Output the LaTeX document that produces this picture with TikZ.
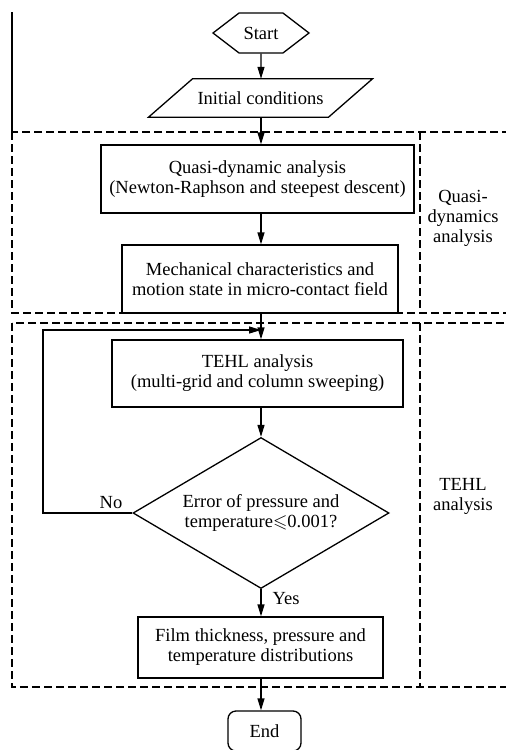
\documentclass[tikz,border=0pt]{standalone}
\usepackage{fontspec}
\setmainfont{Liberation Serif}
\usepackage{amsmath}
\usepackage{amssymb}
\usetikzlibrary{shapes.geometric, shapes.symbols, arrows.meta, positioning, calc}

\begin{document}
\begin{tikzpicture}[
  x=1pt, y=-1pt,
  procbox/.style={rectangle, draw=black, line width=1.3pt, align=center, inner sep=0pt},
  flow/.style={-{Triangle[length=12pt, width=7pt]}, line width=1.3pt},
  zone/.style={draw=black, line width=1.2pt, dash pattern=on 8pt off 4pt},
  font=\fontsize{18.5}{20}\selectfont
]
\useasboundingbox (0,0) rectangle (506,750);

\draw[zone] (12,132) rectangle (530,313);
\draw[zone] (420,132) -- (420,313);
\draw[zone] (12,323) rectangle (530,687);
\draw[zone] (420,323) -- (420,687);
\draw[line width=1.3pt] (12,12) -- (12,132);

\node[signal, signal to=west and east, signal pointer angle=75, draw, line width=1.3pt,
      minimum width=96pt, minimum height=40pt, inner sep=0pt] (start) at (261,33) {Start};
\node[minimum width=180pt, minimum height=38pt, inner sep=0pt] (init) at (260.5,98) {Initial conditions};
\draw[line width=1.3pt] ($(init.north)+(-68,0)$) -- ($(init.north)+(112,0)$)
  -- ($(init.south)+(68,0)$) -- ($(init.south)+(-112,0)$) -- cycle;
\node[procbox, minimum width=313pt, minimum height=68pt] (quasi) at (257.5,179)
      {Quasi-dynamic analysis\\(Newton-Raphson and steepest descent)};
\node[procbox, minimum width=276pt, minimum height=68pt] (mech) at (260,279)
      {Mechanical characteristics and\\motion state in micro-contact field};
\node[procbox, minimum width=291pt, minimum height=67pt] (tehl) at (257.5,373.5)
      {TEHL analysis\\(multi-grid and column sweeping)};
\node[diamond, draw, line width=1.3pt, aspect=1.7, minimum width=256pt, minimum height=151pt,
      inner sep=0pt, align=center] (check) at (261,513)
      {Error of pressure and\\temperature$\leqslant$0.001?};
\node[procbox, minimum width=245pt, minimum height=61pt] (film) at (260.5,647.5)
      {Film thickness, pressure and\\temperature distributions};
\node[procbox, rounded corners=8pt, minimum width=73pt, minimum height=40pt] (end) at (264.5,731) {End};

\node[align=center] (qlabel) at (463,218) {Quasi-\\dynamics\\analysis};
\node[align=center] (tlabel) at (463,496) {TEHL\\analysis};
\node (no) at (111,503) {No};
\node (yes) at (286,599) {Yes};

\coordinate (merge) at (261,330);
\coordinate (back) at (43,330);

\draw[flow] (start) -- (init.north -| start);
\draw[flow] (init.south -| start) -- (quasi.north -| start);
\draw[flow] (quasi.south -| start) -- (mech.north -| start);
\draw[flow] (mech.south -| start) -- (tehl.north -| start);
\draw[flow] (check.west) -| (back) -- (merge);
\draw[flow] (tehl.south -| start) -- (check.north);
\draw[flow] (check.south) -- (film.north -| check);
\draw[flow] (film.south -| start) -- (end.north -| start);
\end{tikzpicture}
\end{document}
